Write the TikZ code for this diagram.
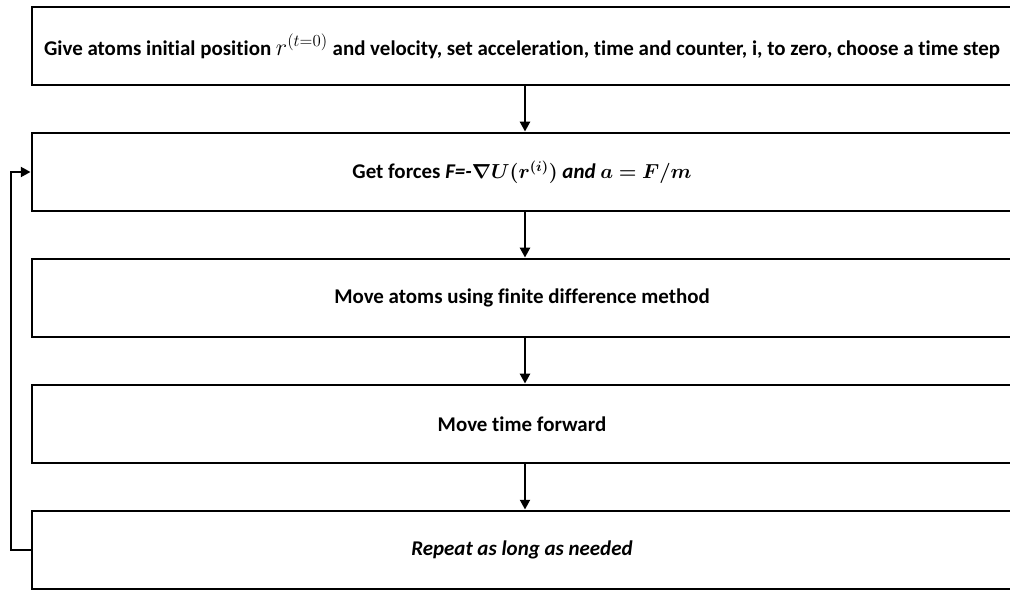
\documentclass[tikz,border=0pt]{standalone}
\usepackage{fontspec}
\setmainfont[Ligatures=NoCommon]{Carlito}
\usepackage{amsmath}
\usepackage{bm}
\usetikzlibrary{arrows.meta}

\begin{document}
\begin{tikzpicture}[
		stagebox/.style={draw, line width=2pt, minimum width=24.5cm, minimum height=1.95cm, inner sep=0pt, font=\fontsize{14.9}{17}\selectfont\bfseries},
		flow/.style={line width=2pt, -{Triangle[length=7pt, width=7pt]}}
	]
			\useasboundingbox (0, 0) rectangle (25.25, 14.75);
			\clip (0, -0.1) rectangle (25.25, 14.85);

			\node[stagebox] (init) at(13.05, 13.6){Give atoms initial position {\fontsize{17}{18}\selectfont$r^{(t=0)}$} and velocity, set acceleration, time and counter, i, to zero, choose a time step};
			\node[stagebox] (forces) at(13.05, 10.45){Get forces \textit{F=-}$\bm{\nabla U(r^{(i)})}$ \textit{and} $\bm{a=F/m}$};
			\node[stagebox] (move) at(13.05, 7.3){Move atoms using finite difference method};
			\node[stagebox] (time) at(13.05, 4.15){Move time forward};
			\node[stagebox] (rep) at(13.05, 1.0){\textit{Repeat as long as needed}};

			\coordinate (loop) at(0.275, 0);

				\draw[flow] (init.south -| 13.125, 0) to (forces.north -| 13.125, 0);
				\draw[flow] (forces.south -| 13.125, 0) to (move.north -| 13.125, 0);
				\draw[flow] (move.south -| 13.125, 0) to (time.north -| 13.125, 0);
				\draw[flow] (time.south -| 13.125, 0) to (rep.north -| 13.125, 0);

			\draw[flow] (rep.west) -- (rep.west -| loop) |- (forces.west);

		\end{tikzpicture}
\end{document}
